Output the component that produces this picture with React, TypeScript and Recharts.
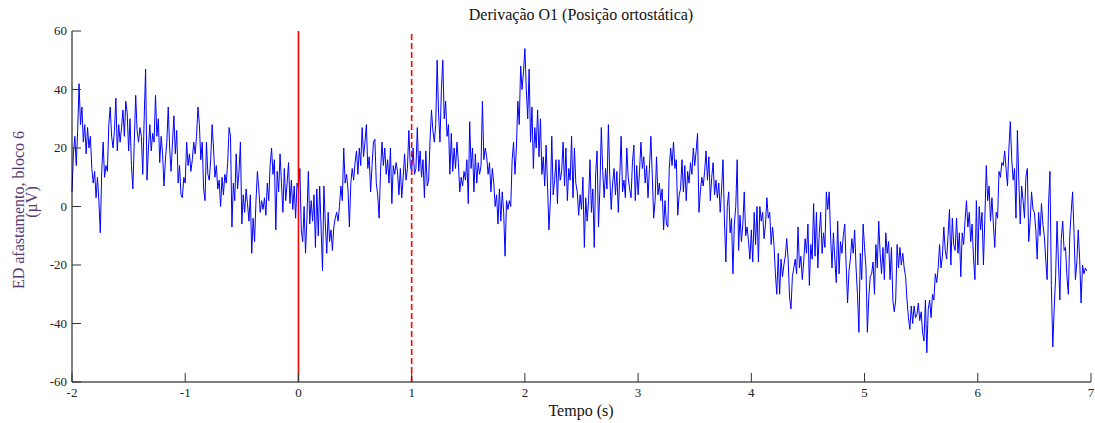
import { LineChart, Line, XAxis, YAxis, ReferenceLine } from "recharts";

// EEG trace, one array per second, sampled every 12.5 ms (values in µV)
const secM2 = [5, 18, 24, 14, 26, 42, 28, 34, 22, 28, 18, 27, 20, 24, 13, 8, 12, 3, 10, 2, -9, 12, 22, 10, 14, 12, 28, 34, 24, 20, 26, 37, 19, 28, 22, 27, 33, 24, 36, 32, 19, 30, 14, 6, 22, 38, 26, 22, 27, 24, 11, 30, 47, 9, 20, 28, 19, 25, 22, 38, 24, 30, 15, 24, 18, 7, 16, 22, 34, 20, 12, 22, 31, 18, 26, 8, 14, 4, 3, 10];
const secM1 = [8, 22, 14, 18, 12, 16, 22, 18, 24, 34, 28, 16, 22, 6, 2, 22, 11, 9, 16, 28, 20, 10, 14, 6, 9, 0, 10, 4, 11, 8, 15, 27, 24, -7, 8, 2, 18, 6, 12, 22, -6, 4, -2, 6, 1, -5, 4, -16, -4, -12, 2, 12, 6, -2, 2, -1, 3, -3, 8, 2, 14, 20, 11, 16, -8, 12, 5, 18, 8, -2, 13, 2, 8, 15, 1, 9, -1, 7, -4, 8];
const sec0 = [6, 13, -8, -12, 0, -16, -4, 12, -6, 2, -5, 4, -14, 6, -10, 7, -7, -22, 7, -6, -16, -2, -12, -8, -15, -7, -4, -2, -5, 0, 7, 2, 20, 8, 11, 6, -7, 8, 13, 9, 15, 19, 11, 20, 14, 27, 17, 22, 28, 13, 17, 5, 14, 22, 23, 8, 4, -4, 12, 22, 14, 20, 11, 16, 8, 20, 1, 14, 11, 15, 12, 4, 13, 3, 10, 18, 9, 13, 26, 14];
const sec1 = [12, 20, 11, 13, 27, 12, 19, 10, 16, 3, 19, 7, 9, 23, 33, 26, 22, 28, 50, 32, 22, 40, 50, 30, 36, 24, 28, 11, 25, 12, 20, 13, 22, 15, 5, 10, 7, 12, 9, 16, 1, 29, 13, 20, 5, 18, 8, 15, 11, 14, 36, 16, 20, 17, 11, 15, 5, 13, 8, 0, 4, -6, 6, -5, 5, -2, -17, 2, -1, 2, 0, 16, 22, 11, 20, 36, 28, 48, 40, 46];
const sec2 = [54, 40, 30, 47, 22, 34, 13, 27, 20, 33, 17, 30, 11, 17, 7, 21, 7, -8, 2, 24, 4, 9, 16, 1, 16, 9, 12, 22, 7, 20, 2, 13, 9, 24, 3, 20, 8, 5, -3, 4, -1, 10, -14, 3, -5, 2, 16, -2, 6, -14, 11, 19, -7, 6, 27, 12, 3, 13, 6, 28, 10, -1, 8, 13, 4, 12, -2, 10, 24, 5, 9, 3, 20, 10, 6, 3, 15, 21, 2, 14];
const sec3 = [4, 12, 22, 13, 17, 8, 14, 3, 13, 24, 11, -4, 2, 17, 4, 8, 2, 6, -8, 2, -6, -7, 13, 20, 14, 22, 13, 16, -3, 4, 6, 16, 5, 14, 2, 12, 8, 15, 11, 20, 14, 19, 25, -2, 5, 10, 7, 12, 19, 9, 17, 2, 10, 15, 4, 9, 3, 8, -2, 6, 16, -5, -19, 0, 5, -9, -4, -23, -6, 0, 16, -15, -3, -12, -6, 5, -10, -7, -12, -18];
const sec4 = [-8, -19, -2, -13, 0, -19, 0, -5, -2, -11, -6, 3, -4, -2, -13, -7, -13, -23, -30, -16, -30, -18, -24, -20, -17, -11, -18, -31, -35, -24, -21, -18, -23, -7, -21, -17, -25, -19, -11, -16, -6, -27, -13, -18, 1, -17, -2, -21, -9, -2, -16, -9, -14, 5, -1, 5, -10, -21, -9, -18, -26, -5, -23, -12, -16, -10, -6, -20, -33, -22, -18, -11, -16, -8, -21, -30, -43, -16, -25, -6];
const sec5 = [-14, -21, -43, -31, -24, -23, -19, -30, -13, -21, -5, -16, -23, -14, -25, -9, -16, -12, -25, -14, -32, -36, -32, -13, -21, -14, -20, -16, -21, -24, -32, -38, -42, -34, -40, -34, -38, -37, -33, -39, -36, -43, -46, -32, -50, -35, -32, -38, -30, -32, -23, -26, -21, -13, -21, -17, -7, -15, -18, -10, -1, -20, -4, -13, -15, -4, -16, -9, -24, -9, -13, -5, 2, -7, -2, -12, -6, -18, -25, 2];
const sec6 = [-20, 0, -8, -2, -20, -4, 14, 2, 7, -5, 3, -6, -14, -2, -4, 12, 10, 15, 14, 19, 13, 7, 20, 29, 16, 9, 13, -4, 26, 9, -6, 7, 2, -4, 10, 13, -12, -5, 5, -1, -2, -8, -18, -2, -10, 1, -6, -10, -18, -25, 1, 12, -27, -48, -35, -24, -5, -19, -32, -11, -5, -15, -14, -24, -30, -10, -2, 5, -9, -25, -19, -8, -18, -33, -20, -23, -21, -22];

const seconds = [secM2, secM1, sec0, sec1, sec2, sec3, sec4, sec5, sec6];
const startTime = -2;
const step = 0.0125;

const xTicks = [-2, -1, 0, 1, 2, 3, 4, 5, 6, 7];
const yTicks = [-60, -40, -20, 0, 20, 40, 60];
const onsetTime = 0;
const markerTime = 1;

const title = "Derivação O1 (Posição ortostática)";
const xLabel = "Tempo (s)";
const yLabel = "ED afastamento, bloco 6";
const yUnit = "(µV)";

const data = seconds.flatMap((vals, s) =>
  vals.map((v, i) => ({ t: +(startTime + s + i * step).toFixed(4), v }))
);

const W = 1095;
const H = 423;
const FONT = "'Liberation Serif', 'Times New Roman', serif";
const TICK = 9;

const BottomTick = ({ x, y, payload }: any) => (
  <g>
    <line x1={x} y1={y} x2={x} y2={y - TICK} stroke="#333" />
    <text x={x} y={y + 15} textAnchor="middle" fontSize={13} fontFamily={FONT} fill="#222">
      {payload.value}
    </text>
  </g>
);

const TopTick = ({ x, y }: any) => <line x1={x} y1={y} x2={x} y2={y + TICK} stroke="#333" />;

const LeftTick = ({ x, y, payload }: any) => (
  <g>
    <line x1={x} y1={y} x2={x + TICK} y2={y} stroke="#333" />
    <text x={x - 5} y={y + 4} textAnchor="end" fontSize={13} fontFamily={FONT} fill="#222">
      {payload.value}
    </text>
  </g>
);

const RightTick = ({ x, y }: any) => <line x1={x} y1={y} x2={x - TICK} y2={y} stroke="#333" />;

export default function App() {
  return (
    <div style={{ position: "absolute", left: 0, top: 0, width: W, height: H, background: "#fff" }}>
      <LineChart width={W} height={H} data={data} margin={{ top: 31, right: 4, bottom: 11, left: 12 }}>
        <XAxis
          dataKey="t"
          type="number"
          domain={[-2, 7]}
          ticks={xTicks}
          interval={0}
          height={30}
          tickSize={0}
          tickMargin={0}
          tickLine={false}
          axisLine={{ stroke: "#000" }}
          tick={<BottomTick />}
        />
        <XAxis
          xAxisId="top"
          orientation="top"
          type="number"
          domain={[-2, 7]}
          ticks={xTicks}
          interval={0}
          height={0}
          tickSize={0}
          tickMargin={0}
          tickLine={false}
          axisLine={{ stroke: "#000" }}
          tick={<TopTick />}
        />
        <YAxis
          type="number"
          domain={[-60, 60]}
          ticks={yTicks}
          interval={0}
          width={60}
          tickSize={0}
          tickMargin={0}
          tickLine={false}
          axisLine={{ stroke: "#000" }}
          tick={<LeftTick />}
        />
        <YAxis
          yAxisId="right"
          orientation="right"
          type="number"
          domain={[-60, 60]}
          ticks={yTicks}
          interval={0}
          width={0}
          tickSize={0}
          tickMargin={0}
          tickLine={false}
          axisLine={{ stroke: "#000" }}
          tick={<RightTick />}
        />
        <Line
          type="linear"
          dataKey="v"
          stroke="#0000ff"
          strokeWidth={1}
          dot={false}
          isAnimationActive={false}
        />
        <ReferenceLine x={onsetTime} stroke="#ff0000" strokeWidth={1.6} />
        <ReferenceLine x={markerTime} stroke="#ff0000" strokeWidth={1.6} strokeDasharray="6 3" />
      </LineChart>
      <svg width={W} height={H} style={{ position: "absolute", left: 0, top: 0, pointerEvents: "none" }}>
        <text x={581} y={20} textAnchor="middle" fontSize={16} fontFamily={FONT} fill="#111">
          {title}
        </text>
        <text x={581} y={416} textAnchor="middle" fontSize={16} fontFamily={FONT} fill="#111">
          {xLabel}
        </text>
        <text
          x={24}
          y={210}
          transform="rotate(-90 24 210)"
          textAnchor="middle"
          fontSize={16}
          fontFamily={FONT}
          fill="#5a3a6e"
        >
          {yLabel}
        </text>
        <text
          x={37}
          y={202}
          transform="rotate(-90 37 202)"
          textAnchor="middle"
          fontSize={16}
          fontFamily={FONT}
          fill="#5a3a6e"
        >
          {yUnit}
        </text>
      </svg>
    </div>
  );
}
